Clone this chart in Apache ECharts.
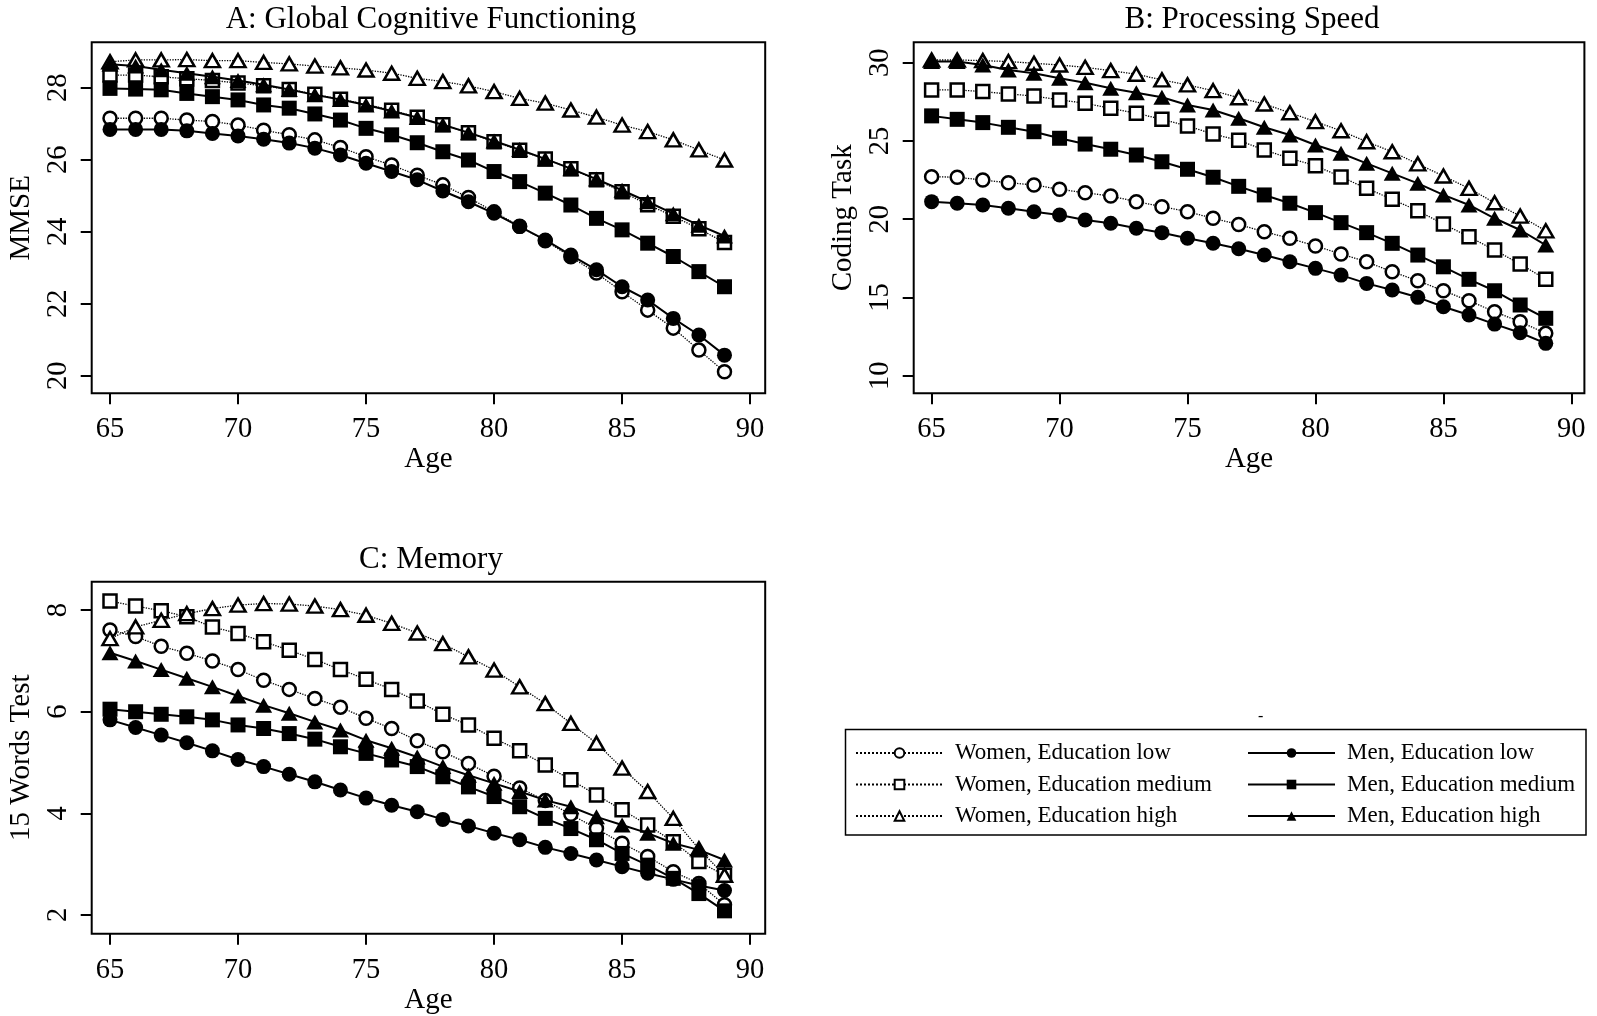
<!DOCTYPE html>
<html>
<head>
<meta charset="utf-8">
<script src="https://cdn.jsdelivr.net/npm/echarts@6/dist/echarts.min.js"></script>
<style>
html,body{margin:0;padding:0;background:#fff;}
#chart{width:1597px;height:1016px;}
</style>
</head>
<body>
<div id="chart"></div>
<script>
const ages = [65,66,67,68,69,70,71,72,73,74,75,76,77,78,79,80,81,82,83,84,85,86,87,88,89];
const xTicks = [65,70,75,80,85,90];

// Panel A: Global Cognitive Functioning (MMSE)
const aWomenLow  = [27.15,27.15,27.15,27.1,27.06,26.96,26.82,26.69,26.55,26.34,26.08,25.85,25.57,25.3,24.95,24.55,24.15,23.75,23.3,22.85,22.33,21.82,21.32,20.71,20.11];
const aWomenMed  = [28.35,28.35,28.3,28.25,28.2,28.13,28.05,27.95,27.82,27.68,27.54,27.37,27.18,26.97,26.75,26.5,26.26,26.02,25.75,25.44,25.11,24.75,24.43,24.08,23.7];
const aWomenHigh = [28.72,28.77,28.77,28.78,28.75,28.75,28.7,28.66,28.6,28.55,28.49,28.4,28.26,28.17,28.05,27.89,27.7,27.57,27.38,27.18,26.96,26.78,26.55,26.27,25.99];
const aMenLow    = [26.84,26.84,26.84,26.8,26.73,26.66,26.57,26.46,26.32,26.13,25.9,25.67,25.44,25.13,24.83,24.51,24.14,23.77,23.35,22.94,22.47,22.1,21.59,21.13,20.57];
const aMenMed    = [27.98,27.96,27.94,27.84,27.75,27.66,27.52,27.43,27.27,27.1,26.87,26.69,26.47,26.22,25.99,25.67,25.39,25.07,24.74,24.37,24.05,23.68,23.31,22.89,22.47];
const aMenHigh   = [28.65,28.6,28.5,28.4,28.3,28.2,28.08,27.95,27.8,27.67,27.52,27.35,27.17,26.97,26.75,26.52,26.28,26.02,25.75,25.46,25.15,24.83,24.5,24.18,23.88];
const aTicks = [20,22,24,26,28];

// Panel B: Processing Speed (Coding Task)
const bWomenLow  = [22.72,22.68,22.5,22.33,22.19,21.91,21.69,21.48,21.12,20.8,20.48,20.06,19.66,19.2,18.78,18.29,17.78,17.28,16.64,16.07,15.43,14.79,14.09,13.45,12.71];
const bWomenMed  = [28.26,28.26,28.15,28.0,27.87,27.62,27.41,27.09,26.77,26.38,25.96,25.44,25.04,24.42,23.89,23.42,22.7,21.97,21.27,20.54,19.69,18.88,18.03,17.14,16.16];
const bWomenHigh = [30.17,30.17,30.13,30.07,29.96,29.85,29.7,29.49,29.26,28.9,28.58,28.21,27.76,27.36,26.8,26.23,25.65,24.95,24.31,23.53,22.76,21.97,21.05,20.2,19.26];
const bMenLow    = [21.12,21.02,20.91,20.7,20.48,20.27,19.95,19.74,19.42,19.14,18.78,18.46,18.11,17.71,17.28,16.86,16.43,15.9,15.48,15.01,14.41,13.88,13.3,12.75,12.07];
const bMenMed    = [26.6,26.38,26.17,25.87,25.59,25.17,24.8,24.47,24.1,23.67,23.19,22.68,22.1,21.55,21.02,20.42,19.78,19.14,18.46,17.71,16.96,16.16,15.43,14.52,13.67];
const bMenHigh   = [30.07,30.07,29.85,29.53,29.32,29.0,28.72,28.36,28.08,27.79,27.3,26.98,26.45,25.87,25.38,24.74,24.21,23.57,22.93,22.29,21.55,20.91,20.06,19.31,18.35];
const bTicks = [10,15,20,25,30];

// Panel C: Memory (15 Words Test)
const cWomenLow  = [7.61,7.48,7.29,7.15,7.0,6.83,6.62,6.44,6.26,6.09,5.87,5.67,5.43,5.21,4.98,4.73,4.5,4.25,3.98,3.7,3.41,3.15,2.85,2.62,2.2];
const cWomenMed  = [8.18,8.08,7.99,7.87,7.67,7.54,7.38,7.21,7.03,6.83,6.64,6.44,6.21,5.95,5.74,5.48,5.23,4.95,4.66,4.36,4.07,3.77,3.44,3.05,2.78];
const cWomenHigh = [7.44,7.67,7.8,7.93,8.03,8.1,8.13,8.12,8.08,8.01,7.9,7.74,7.55,7.34,7.08,6.82,6.49,6.16,5.77,5.38,4.89,4.43,3.9,3.3,2.78];
const cMenLow    = [5.84,5.69,5.54,5.39,5.23,5.06,4.92,4.77,4.62,4.46,4.3,4.16,4.03,3.88,3.75,3.61,3.48,3.33,3.21,3.08,2.95,2.82,2.7,2.58,2.48];
const cMenMed    = [6.05,6.0,5.95,5.9,5.84,5.74,5.67,5.57,5.46,5.31,5.18,5.05,4.92,4.72,4.52,4.33,4.13,3.9,3.7,3.48,3.21,2.98,2.72,2.42,2.08];
const cMenHigh   = [7.16,7.0,6.83,6.66,6.49,6.31,6.13,5.97,5.8,5.64,5.44,5.28,5.11,4.92,4.75,4.59,4.43,4.26,4.13,3.93,3.77,3.61,3.41,3.28,3.08];
const cTicks = [2,4,6,8];

const titles = ['A: Global Cognitive Functioning','B: Processing Speed','C: Memory'];
const yNames = ['MMSE','Coding Task','15 Words Test'];
const seriesNames = ['Women, Education low','Women, Education medium','Women, Education high','Men, Education low','Men, Education medium','Men, Education high'];

const FONT = '"Liberation Serif", "Times New Roman", serif';
const panels = [
  {grid:{left:91.7, top:42.3, width:673.5, height:351}, xr:[64.285,90.59], yr:[19.51,29.26], yt:aTicks,
   data:[aWomenLow,aWomenMed,aWomenHigh,aMenLow,aMenMed,aMenHigh], tc:[431,4]},
  {grid:{left:913.7, top:42.3, width:670.7, height:351}, xr:[64.30,90.51], yr:[8.88,31.3], yt:bTicks,
   data:[bWomenLow,bWomenMed,bWomenHigh,bMenLow,bMenMed,bMenHigh], tc:[1252,4]},
  {grid:{left:91.7, top:581.7, width:673.5, height:352}, xr:[64.285,90.59], yr:[1.63,8.56], yt:cTicks,
   data:[cWomenLow,cWomenMed,cWomenHigh,cMenLow,cMenMed,cMenHigh], tc:[431,544]}
];

const symbols = ['circle','rect','triangle','circle','rect','triangle'];
const sizes = [13,13,[15,13],15,15,[17,15]];

const grids = [], xAxes = [], yAxes = [], series = [], titleArr = [];
panels.forEach((p, gi) => {
  grids.push(Object.assign({show:true, borderColor:'#000', borderWidth:2, containLabel:false}, p.grid));
  titleArr.push({text:titles[gi], left:p.tc[0], top:p.tc[1], textAlign:'center', padding:0,
    textStyle:{fontFamily:FONT, fontSize:31, fontWeight:'normal', color:'#000'}});
  xAxes.push({type:'value', gridIndex:gi, min:p.xr[0], max:p.xr[1],
    name:'Age', nameLocation:'middle', nameGap:52,
    nameTextStyle:{fontFamily:FONT, fontSize:29, color:'#000'},
    axisLine:{show:false}, splitLine:{show:false},
    axisTick:{show:true, length:11, inside:false, customValues:xTicks, lineStyle:{color:'#000', width:2}},
    axisLabel:{customValues:xTicks, margin:22, fontFamily:FONT, fontSize:28.5, color:'#000'}});
  yAxes.push({type:'value', gridIndex:gi, min:p.yr[0], max:p.yr[1],
    name:yNames[gi], nameLocation:'middle', nameGap:56, nameRotate:90,
    nameTextStyle:{fontFamily:FONT, fontSize:29, color:'#000'},
    axisLine:{show:false}, splitLine:{show:false},
    axisTick:{show:true, length:11, inside:false, customValues:p.yt, lineStyle:{color:'#000', width:2}},
    axisLabel:{customValues:p.yt, rotate:90, margin:19, fontFamily:FONT, fontSize:28.5, color:'#000'}});
  p.data.forEach((arr, si) => {
    const women = si < 3;
    series.push({
      type:'line', name:seriesNames[si], xAxisIndex:gi, yAxisIndex:gi,
      data: ages.map((a, i) => [a, arr[i]]),
      symbol:symbols[si], symbolSize:sizes[si], showAllSymbol:true,
      itemStyle: women ? {color:'#fff', borderColor:'#000', borderWidth:2.5} : {color:'#000', borderColor:'#000', borderWidth:0},
      lineStyle:{color:'#000', width: women ? 1.3 : 2, type: women ? 'dotted' : 'solid'},
      emphasis:{disabled:true}, animation:false, z: women ? 2 : 3
    });
  });
});

const legendCommon = {orient:'vertical', itemWidth:87, itemHeight:12, itemGap:7.5, padding:0, selectedMode:false,
  textStyle:{fontFamily:FONT, fontSize:23, color:'#000', lineHeight:24, padding:[0,0,0,7]}};

const option = {
  backgroundColor:'#fff',
  animation:false,
  title:titleArr,
  grid:grids, xAxis:xAxes, yAxis:yAxes, series:series,
  legend:[
    Object.assign({data:seriesNames.slice(0,3), left:855, top:741}, legendCommon),
    Object.assign({data:seriesNames.slice(3), left:1247, top:741}, legendCommon)
  ],
  graphic:[
    {type:'rect', shape:{x:845.5, y:729.5, width:740.5, height:105.5}, style:{fill:'none', stroke:'#000', lineWidth:1.5}, z:-1},
    {type:'text', x:1258, y:709, style:{text:'-', fontFamily:FONT, fontSize:16, fill:'#000'}}
  ]
};

const chart = echarts.init(document.getElementById('chart'), null, {renderer:'canvas'});
chart.setOption(option);
</script>
</body>
</html>
